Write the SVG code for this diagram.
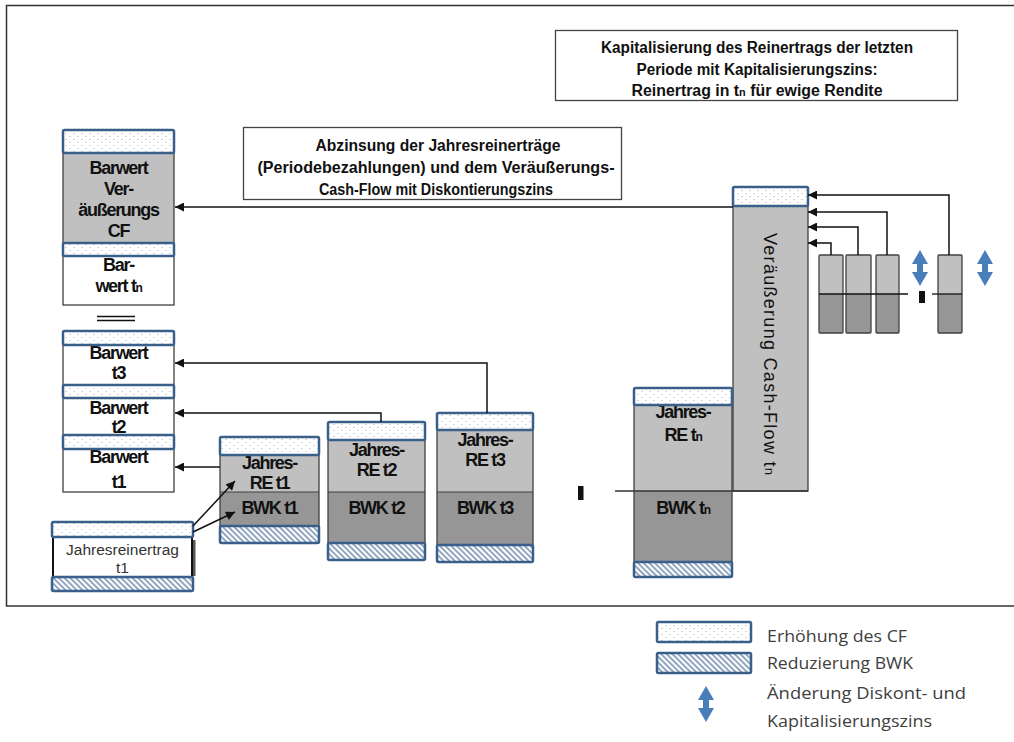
<svg xmlns="http://www.w3.org/2000/svg" width="1014" height="742" viewBox="0 0 1014 742">
<style>
.lbl{font-family:"Liberation Sans",Arial,sans-serif;font-weight:bold;font-size:18px;letter-spacing:-1.3px;fill:#111;text-anchor:middle}
.hdr{font-family:"Liberation Sans",Arial,sans-serif;font-weight:bold;font-size:16px;fill:#111;text-anchor:middle}
.leg{font-family:"Open Sans","Noto Sans",sans-serif;font-size:17px;fill:#404040}
.band{stroke:#3A5F8B;stroke-width:2.5}
.light{fill:#C0C0C0}
.dark{fill:#969696}
.outl{fill:none;stroke:#404040;stroke-width:1.3}
.con{fill:none;stroke:#111;stroke-width:1.5}
</style>
<defs>
<pattern id="dots" width="8" height="6" patternUnits="userSpaceOnUse">
<rect width="8" height="6" fill="#fff"/>
<circle cx="2" cy="1.5" r="0.6" fill="#9aa4ae"/>
<circle cx="6" cy="4.5" r="0.6" fill="#9aa4ae"/>
</pattern>
<pattern id="hatch" width="4" height="4" patternUnits="userSpaceOnUse" patternTransform="rotate(-45)">
<rect width="4" height="4" fill="#fff"/>
<line x1="1" y1="0" x2="1" y2="4" stroke="#7f97b5" stroke-width="1.7"/>
</pattern>
<marker id="ah" viewBox="0 0 10 10" refX="10" refY="5" markerWidth="10" markerHeight="9" markerUnits="userSpaceOnUse" orient="auto">
<path d="M0,0 L10,5 L0,10 Z" fill="#111"/>
</marker>
<path id="dbl" d="M0,-18 L8,-4 L3,-4 L3,4 L8,4 L0,18 L-8,4 L-3,4 L-3,-4 L-8,-4 Z" fill="#4A7EBB"/>
</defs>

<rect x="6.5" y="5.5" width="1015" height="600.5" fill="#fff" stroke="#333" stroke-width="1.5"/>

<g id="box-kapitalisierung">
<rect x="555.5" y="30.5" width="402" height="70" fill="#fff" stroke="#444" stroke-width="1.3"/>
<text class="hdr" x="757" y="53" textLength="312" lengthAdjust="spacingAndGlyphs">Kapitalisierung des Reinertrags der letzten</text>
<text class="hdr" x="757" y="75" textLength="241" lengthAdjust="spacingAndGlyphs">Periode mit Kapitalisierungszins:</text>
<text class="hdr" x="757" y="96" textLength="251" lengthAdjust="spacingAndGlyphs">Reinertrag in t<tspan font-size="11">n</tspan> für ewige Rendite</text>
</g>

<g id="box-abzinsung">
<rect x="243.5" y="127.5" width="378" height="72" fill="#fff" stroke="#444" stroke-width="1.3"/>
<text class="hdr" x="438" y="151" textLength="245" lengthAdjust="spacingAndGlyphs">Abzinsung der Jahresreinerträge</text>
<text class="hdr" x="436" y="173" textLength="357" lengthAdjust="spacingAndGlyphs">(Periodebezahlungen) und dem Veräußerungs-</text>
<text class="hdr" x="436" y="195" textLength="234" lengthAdjust="spacingAndGlyphs">Cash-Flow mit Diskontierungszins</text>
</g>

<g id="barwert-veraeusserung">
<rect class="light" x="63" y="141" width="111" height="102"/>
<rect x="63" y="250" width="111" height="55" fill="#fff"/>
<rect class="outl" x="63" y="141" width="111" height="164"/>
<text class="lbl" x="118.5" y="174">Barwert</text>
<text class="lbl" x="118.5" y="195">Ver-</text>
<text class="lbl" x="118.5" y="216">äußerungs</text>
<text class="lbl" x="118.5" y="237">CF</text>
<text class="lbl" x="118.5" y="271">Bar-</text>
<text class="lbl" x="118.5" y="292">wert t<tspan font-size="12">n</tspan></text>
<rect class="band" x="63" y="130" width="111" height="23" rx="1.5" fill="url(#dots)"/>
<rect class="band" x="63" y="243" width="111" height="13" rx="1.5" fill="url(#dots)"/>
</g>

<g id="gleich">
<line x1="97" y1="316.5" x2="135" y2="316.5" stroke="#111" stroke-width="1.3"/>
<line x1="97" y1="320.5" x2="135" y2="320.5" stroke="#111" stroke-width="1.3"/>
</g>

<g id="barwert-stack">
<rect x="63" y="338" width="111" height="154" fill="#fff"/>
<rect class="outl" x="63" y="338" width="111" height="154"/>
<text class="lbl" x="118.5" y="359">Barwert</text>
<text class="lbl" x="118.5" y="379">t3</text>
<text class="lbl" x="118.5" y="414">Barwert</text>
<text class="lbl" x="118.5" y="433">t2</text>
<text class="lbl" x="118.5" y="463">Barwert</text>
<text class="lbl" x="118.5" y="488">t1</text>
<rect class="band" x="63" y="331" width="111" height="14" rx="1.5" fill="url(#dots)"/>
<rect class="band" x="63" y="385" width="111" height="13" rx="1.5" fill="url(#dots)"/>
<rect class="band" x="63" y="435" width="111" height="14" rx="1.5" fill="url(#dots)"/>
</g>

<g id="jahresreinertrag-t1">
<rect x="193" y="540" width="2.5" height="36" fill="#555"/>
<rect x="53" y="537" width="139" height="40" fill="#fff" stroke="#111" stroke-width="2"/>
<text x="122.5" y="555" font-family="Liberation Sans,Arial,sans-serif" font-size="15.5" fill="#333" text-anchor="middle">Jahresreinertrag</text>
<text x="122.5" y="573" font-family="Liberation Sans,Arial,sans-serif" font-size="15.5" fill="#333" text-anchor="middle">t1</text>
<rect class="band" x="52" y="522" width="141" height="15" rx="1.5" fill="url(#dots)"/>
<rect class="band" x="52" y="577" width="141" height="14" rx="1.5" fill="url(#hatch)"/>
</g>

<g id="spalte-t1">
<rect class="light" x="220" y="446" width="99" height="46"/>
<rect class="dark" x="220" y="492" width="99" height="43"/>
<rect class="outl" x="220" y="446" width="99" height="89"/>
<line x1="220" y1="492" x2="319" y2="492" stroke="#404040" stroke-width="1.2"/>
<text class="lbl" x="269.5" y="469">Jahres-</text>
<text class="lbl" x="269.5" y="489">RE t1</text>
<text class="lbl" x="269.5" y="514">BWK t1</text>
<rect class="band" x="220" y="437" width="99" height="18" rx="1.5" fill="url(#dots)"/>
<rect class="band" x="220" y="526" width="99" height="17" rx="1.5" fill="url(#hatch)"/>
</g>

<g id="spalte-t2">
<rect class="light" x="328" y="430" width="97" height="62"/>
<rect class="dark" x="328" y="492" width="97" height="60"/>
<rect class="outl" x="328" y="430" width="97" height="122"/>
<line x1="328" y1="492" x2="425" y2="492" stroke="#404040" stroke-width="1.2"/>
<text class="lbl" x="376.5" y="456">Jahres-</text>
<text class="lbl" x="376.5" y="476">RE t2</text>
<text class="lbl" x="376.5" y="514">BWK t2</text>
<rect class="band" x="328" y="422" width="97" height="18" rx="1.5" fill="url(#dots)"/>
<rect class="band" x="328" y="543" width="97" height="17" rx="1.5" fill="url(#hatch)"/>
</g>

<g id="spalte-t3">
<rect class="light" x="437" y="420" width="96" height="72"/>
<rect class="dark" x="437" y="492" width="96" height="62"/>
<rect class="outl" x="437" y="420" width="96" height="134"/>
<line x1="437" y1="492" x2="533" y2="492" stroke="#404040" stroke-width="1.2"/>
<text class="lbl" x="485" y="446">Jahres-</text>
<text class="lbl" x="485" y="466">RE t3</text>
<text class="lbl" x="485" y="514">BWK t3</text>
<rect class="band" x="437" y="413" width="96" height="17" rx="1.5" fill="url(#dots)"/>
<rect class="band" x="437" y="545" width="96" height="17" rx="1.5" fill="url(#hatch)"/>
</g>

<g id="punkte">
<rect x="578" y="486" width="5.5" height="14" fill="#111"/>
<rect x="919" y="291" width="6" height="12" fill="#111"/>
</g>

<g id="veraeusserung-cf">
<rect class="light" x="733" y="196" width="75" height="295"/>
<rect class="outl" x="733" y="196" width="75" height="295"/>
<text transform="translate(770,354) rotate(90)" font-family="Liberation Sans,Arial,sans-serif" font-size="18" fill="#111" text-anchor="middle" dominant-baseline="central" textLength="242" lengthAdjust="spacing">Veräußerung Cash-Flow t<tspan font-size="13">n</tspan></text>
<rect class="band" x="733" y="187" width="75" height="19" rx="1.5" fill="url(#dots)"/>
</g>

<g id="spalte-tn">
<rect class="light" x="634" y="396" width="98" height="95"/>
<rect class="dark" x="634" y="491" width="98" height="80"/>
<rect class="outl" x="634" y="396" width="98" height="175"/>
<text class="lbl" x="683" y="418">Jahres-</text>
<text class="lbl" x="683" y="441">RE t<tspan font-size="12">n</tspan></text>
<text class="lbl" x="683" y="514">BWK t<tspan font-size="12">n</tspan></text>
<rect class="band" x="634" y="388" width="98" height="17" rx="1.5" fill="url(#dots)"/>
<rect class="band" x="634" y="562" width="98" height="15" rx="1.5" fill="url(#hatch)"/>
</g>

<g id="kleine-spalten">
<rect class="light" x="819" y="255" width="24" height="39"/>
<rect class="dark" x="819" y="294" width="24" height="39"/>
<rect class="outl" x="819" y="255" width="24" height="78" rx="1"/>
<rect class="light" x="846" y="255" width="25" height="39"/>
<rect class="dark" x="846" y="294" width="25" height="39"/>
<rect class="outl" x="846" y="255" width="25" height="78" rx="1"/>
<rect class="light" x="876" y="255" width="23" height="39"/>
<rect class="dark" x="876" y="294" width="23" height="39"/>
<rect class="outl" x="876" y="255" width="23" height="78" rx="1"/>
<rect class="light" x="938" y="255" width="24" height="39"/>
<rect class="dark" x="938" y="294" width="24" height="39"/>
<rect class="outl" x="938" y="255" width="24" height="78" rx="1"/>
<line x1="819" y1="294" x2="908" y2="294" stroke="#111" stroke-width="1.3"/>
<line x1="932" y1="294" x2="962" y2="294" stroke="#111" stroke-width="1.3"/>
</g>

<g id="zins-pfeile">
<use href="#dbl" x="920" y="268"/>
<use href="#dbl" x="985" y="268"/>
</g>

<g id="connectors">
<path class="con" d="M733,207 H175" stroke-width="2" marker-end="url(#ah)"/>
<path class="con" d="M487,413 V363 H175" marker-end="url(#ah)"/>
<path class="con" d="M381,422 V413 H175" marker-end="url(#ah)"/>
<path class="con" d="M220,467 H175" marker-end="url(#ah)"/>
<path class="con" d="M193,526 L235,481" marker-end="url(#ah)"/>
<path class="con" d="M193,532 L235,512" marker-end="url(#ah)"/>
<path class="con" d="M949,255 V195 H808" marker-end="url(#ah)"/>
<path class="con" d="M887,255 V212 H808" marker-end="url(#ah)"/>
<path class="con" d="M858,255 V227 H808" marker-end="url(#ah)"/>
<path class="con" d="M831,255 V243 H808" marker-end="url(#ah)"/>
<line x1="615" y1="491" x2="808" y2="491" stroke="#333" stroke-width="1.3"/>
</g>

<g id="legende">
<rect class="band" x="657" y="622" width="94" height="20" rx="1.5" fill="url(#dots)"/>
<rect class="band" x="657" y="653" width="94" height="20" rx="1.5" fill="url(#hatch)"/>
<use href="#dbl" x="706" y="704"/>
<text class="leg" x="767" y="642" textLength="140" lengthAdjust="spacingAndGlyphs">Erhöhung des CF</text>
<text class="leg" x="767" y="669" textLength="146" lengthAdjust="spacingAndGlyphs">Reduzierung BWK</text>
<text class="leg" x="767" y="699" textLength="199" lengthAdjust="spacingAndGlyphs">Änderung Diskont- und</text>
<text class="leg" x="767" y="727" textLength="165" lengthAdjust="spacingAndGlyphs">Kapitalisierungszins</text>
</g>
</svg>
